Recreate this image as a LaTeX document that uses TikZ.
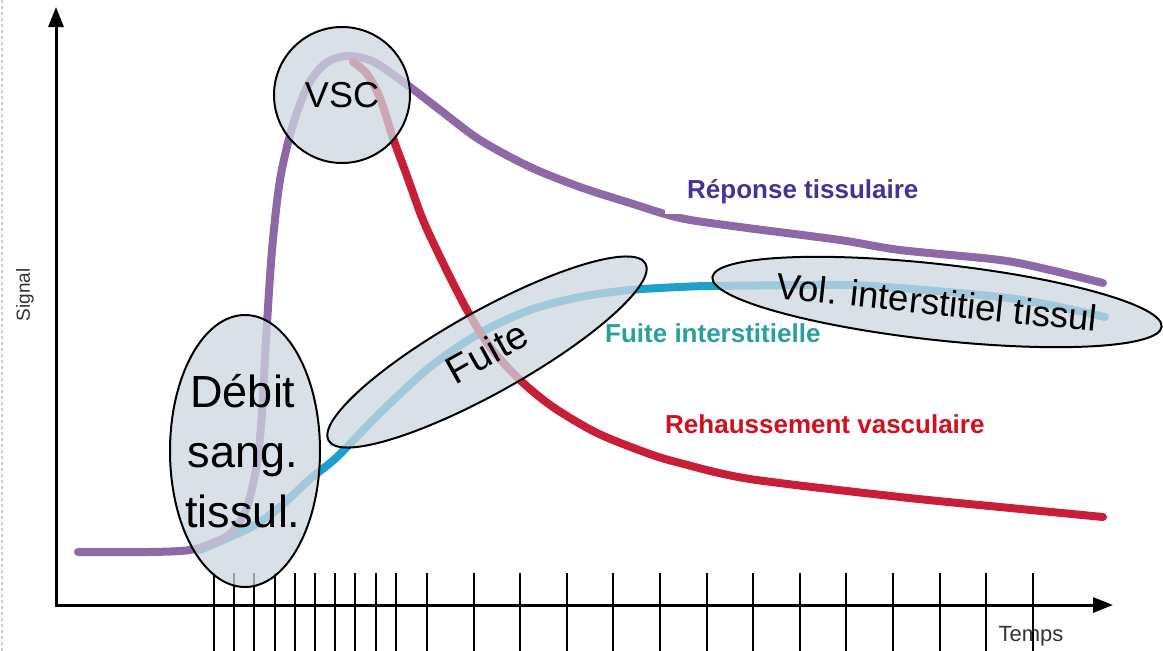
\documentclass[tikz,border=0pt]{standalone}
\usepackage{fontspec}
\setmainfont{Liberation Sans}
\usetikzlibrary{arrows.meta,shapes.geometric}
\definecolor{violetc}{RGB}{142,105,168}
\definecolor{rougec}{RGB}{200,30,55}
\definecolor{cyanc}{RGB}{30,160,205}
\definecolor{violett}{RGB}{72,50,150}
\definecolor{rouget}{RGB}{210,15,30}
\definecolor{cyant}{RGB}{40,160,160}
\definecolor{zonefond}{RGB}{205,214,224}
\tikzset{
  courbe/.style={line width=8pt,line cap=round},
  zone/.style={ellipse,draw=black,line width=2pt,fill=zonefond,fill opacity=0.75,inner sep=0pt},
  etiquette/.style={font=\fontsize{26}{30}\selectfont\bfseries,fill=white,inner xsep=22pt,inner ysep=11pt,anchor=base west},
  fleche/.tip={Triangle[length=20pt,width=15pt]}
}

\begin{document}
\begin{tikzpicture}[x=1pt,y=-1pt]
\useasboundingbox (0,0) rectangle (1163,651);
\draw[gray!40,line width=1.5pt,dash pattern=on 3pt off 3pt] (2,0) -- (2,651);
\coordinate (o) at (56,605);
\coordinate (ymax) at (56,7);
\coordinate (xmax) at (1113,605);
\draw[line width=3pt,fleche-fleche] (ymax) -- (o) -- (xmax);
\foreach \i in {0,...,9}
  \draw[line width=2pt] ({214+20.2*\i},573) -- ({214+20.2*\i},651);
\foreach \j in {0,...,13}
  \draw[line width=2pt] ({427+46.6*\j},573) -- ({427+46.6*\j},651);
\node[rotate=90,font=\fontsize{19}{22}\selectfont,text=black!80] (signal) at (25,295) {Signal};
\node[font=\fontsize{22}{26}\selectfont,text=black!80] (temps) at (1031,636) {Temps};

\draw[courbe,cyanc] plot[smooth] coordinates {(200,550) (230,537) (255,525) (280,507) (310,479) (337,457) (380,413) (430,367) (480,333) (530,310) (580,297) (630,290) (680,287) (713,286) (840,285) (900,288) (1000,297) (1050,305) (1105,317)};
\draw[courbe,violetc] plot[smooth] coordinates {(78,552) (150,552) (190,550) (215,542) (232,532) (247,507) (257,463) (262,413) (266,340) (272,250) (280,180) (292,128) (308,85) (326,63) (347,56) (374,62) (410,87) (440,110) (480,140) (530,167) (580,187) (630,203) (680,218) (740,227) (840,240) (900,250) (1000,260) (1050,270) (1103,283)};
\draw[courbe,rougec] plot[smooth] coordinates {(353,62) (367,74) (380,98) (393,138) (407,176) (423,220) (443,263) (467,310) (490,347) (520,380) (553,407) (597,433) (647,453) (680,463) (750,479) (900,497) (1000,507) (1103,517)};

\node[etiquette,text=violett] (reponse) at (665,198) {Réponse tissulaire};
\node[etiquette,text=cyant] (fuiteint) at (583,342) {Fuite interstitielle};
\node[etiquette,text=rouget] (rehauss) at (643,433) {Rehaussement vasculaire};

\node[zone,minimum width=136pt,minimum height=136pt] (vsc) at (342,95) {};
\node[zone,minimum width=150pt,minimum height=272pt] (debit) at (245,451) {};
\node[zone,minimum width=363pt,minimum height=82pt,rotate=29.2] (fuite) at (487,352) {};
\node[zone,minimum width=452pt,minimum height=76pt,rotate=-6.3] (vol) at (937,302) {};

\node[font=\fontsize{36}{40}\selectfont] (vsct) at (vsc) {VSC};
\node[font=\fontsize{45}{60}\selectfont,align=center] (debitt) at (243,451) {Débit\\sang.\\tissul.};
\node[font=\fontsize{39}{44}\selectfont,rotate=29.2] (fuitet) at (fuite) {Fuite};
\node[font=\fontsize{36.5}{40}\selectfont,rotate=-6] (volt) at (vol) {Vol. interstitiel tissul};
\end{tikzpicture}
\end{document}
